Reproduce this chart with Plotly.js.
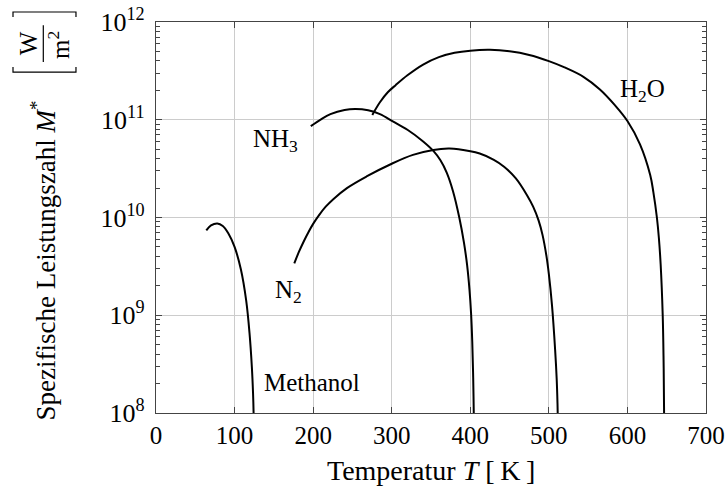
<!DOCTYPE html>
<html>
<head>
<meta charset="utf-8">
<script src="https://cdn.plot.ly/plotly-3.0.1.min.js"></script>
<style>html,body{margin:0;padding:0;background:#fff;}#chart{width:725px;height:493px;}</style>
</head>
<body>
<div id="chart"></div>
<script>
// Temperature T [K] and specific merit number M* [W/m^2]
var methanolT = [64, 70, 78, 85, 92, 100, 108, 114.8, 119, 122, 123.5, 124.2, 124.6];
var methanolM = [7.4e9, 8.3e9, 8.7e9, 8.2e9, 6.9e9, 5.0e9, 2.95e9, 1.41e9, 6.6e8, 2.95e8, 1.6e8, 1.0e8, 4e7];

var nh3T = [197, 210, 222, 240, 254, 270, 285, 302, 320, 340, 353, 362, 370, 378, 386, 392, 396, 399, 401, 402.5, 403.7, 404.5, 405];
var nh3M = [8.6e10, 1.01e11, 1.14e11, 1.26e11, 1.29e11, 1.25e11, 1.14e11, 9.55e10, 7.9e10, 6.0e10, 4.8e10, 3.85e10, 2.88e10, 1.86e10, 1.0e10, 5.5e9, 3.24e9, 1.82e9, 1.05e9, 5.4e8, 2.3e8, 9e7, 4e7];

var h2oT = [275.3, 285, 295, 305, 320, 340, 360, 380, 400, 425, 450, 475, 500, 520, 544, 565, 584, 600, 616, 629, 633, 637.5, 640, 642.3, 644.9, 646, 646.6, 647];
var h2oM = [1.12e11, 1.51e11, 1.91e11, 2.26e11, 2.85e11, 3.67e11, 4.37e11, 4.84e11, 5.09e11, 5.19e11, 5.01e11, 4.6e11, 3.98e11, 3.43e11, 2.75e11, 2.04e11, 1.41e11, 9.7e10, 5.6e10, 2.72e10, 1.82e10, 1.0e10, 6.2e9, 3.3e9, 1.0e9, 3.5e8, 1.15e8, 3e7];

var n2T = [176, 182, 188, 194, 200, 208, 216, 226, 243, 268, 300, 327, 353, 372, 385, 412, 430, 443, 458, 472, 480, 487, 492, 497, 500, 504, 508, 510, 511, 512];
var n2M = [3.4e9, 4.47e9, 5.69e9, 7.08e9, 8.6e9, 1.07e10, 1.29e10, 1.55e10, 2.0e10, 2.63e10, 3.55e10, 4.37e10, 4.9e10, 5.07e10, 5.0e10, 4.52e10, 3.89e10, 3.31e10, 2.51e10, 1.7e10, 1.29e10, 9.3e9, 6.6e9, 4.0e9, 2.63e9, 1.26e9, 4.4e8, 2.2e8, 1.25e8, 5e7];

var xTicks = [0, 100, 200, 300, 400, 500, 600, 700];
var yTickVals = [1e8, 1e9, 1e10, 1e11, 1e12];
var yTickText = ['10<sup>8</sup>', '10<sup>9</sup>', '10<sup>10</sup>', '10<sup>11</sup>', '10<sup>12</sup>'];

var FONT = '"Liberation Serif", "Times New Roman", serif';
var lineStyle = {color: '#000', width: 2, shape: 'spline', smoothing: 1};

function tr(x, y) {
  return {x: x, y: y, type: 'scatter', mode: 'lines', line: lineStyle, hoverinfo: 'skip', showlegend: false};
}

var data = [tr(methanolT, methanolM), tr(nh3T, nh3M), tr(h2oT, h2oM), tr(n2T, n2M)];

var axisCommon = {
  showline: true, linecolor: '#444', linewidth: 1.2, mirror: 'allticks',
  ticks: 'inside', tickcolor: '#444', ticklen: 6, tickwidth: 1,
  showgrid: true, gridcolor: '#cccccc', gridwidth: 1, zeroline: false,
  tickfont: {family: FONT, size: 25, color: '#000'}
};

var layout = {
  width: 725, height: 493,
  margin: {l: 156, r: 19, t: 22, b: 80},
  paper_bgcolor: '#fff', plot_bgcolor: '#fff',
  font: {family: FONT, color: '#000'},
  xaxis: Object.assign({}, axisCommon, {
    range: [0, 700], tickvals: xTicks, ticktext: xTicks.map(String)
  }),
  yaxis: Object.assign({}, axisCommon, {
    type: 'log', range: [8, 12], tickvals: yTickVals, ticktext: yTickText,
    ticklabelstandoff: 5,
    tickfont: {family: FONT, size: 26, color: '#000'},
    minor: {dtick: 'D1', ticks: 'inside', ticklen: 4, tickcolor: '#444', showgrid: false}
  }),
  annotations: [
    {text: 'NH<sub>3</sub>', x: 152.7, y: 10.79, xref: 'x', yref: 'y', showarrow: false, font: {family: FONT, size: 25}},
    {text: 'N<sub>2</sub>', x: 168, y: 9.238, xref: 'x', yref: 'y', showarrow: false, font: {family: FONT, size: 25}},
    {text: 'Methanol', x: 198, y: 8.307, xref: 'x', yref: 'y', showarrow: false, font: {family: FONT, size: 25}},
    {text: 'H<sub>2</sub>O', x: 618.6, y: 11.304, xref: 'x', yref: 'y', showarrow: false, font: {family: FONT, size: 25}},
    {text: 'Temperatur <i>T</i> [\u2009K\u2009]', x: 0.5, y: -0.146, xref: 'paper', yref: 'paper', showarrow: false, xanchor: 'center', yanchor: 'middle', font: {family: FONT, size: 28}},
    {text: 'Spezifische Leistungszahl <i>M</i><sup>*</sup>', x: -0.2055, y: 0.39, xref: 'paper', yref: 'paper', showarrow: false, textangle: -90, xanchor: 'center', yanchor: 'middle', font: {family: FONT, size: 27}},
    {text: 'W', x: -0.2327, y: 0.946, xref: 'paper', yref: 'paper', showarrow: false, textangle: -90, xanchor: 'center', yanchor: 'middle', font: {family: FONT, size: 25}},
    {text: 'm<sup>2</sup>', x: -0.1764, y: 0.941, xref: 'paper', yref: 'paper', showarrow: false, textangle: -90, xanchor: 'center', yanchor: 'middle', font: {family: FONT, size: 25}}
  ],
  shapes: [
    {type: 'line', xref: 'paper', yref: 'paper', x0: -0.2049, x1: -0.2049, y0: 0.898, y1: 0.992, line: {color: '#000', width: 1.2}},
    {type: 'path', xref: 'paper', yref: 'paper', path: 'M -0.26,1.0128 L -0.26,1.0256 L -0.1455,1.0256 L -0.1455,1.0128', line: {color: '#000', width: 1.2}},
    {type: 'path', xref: 'paper', yref: 'paper', path: 'M -0.26,0.885 L -0.26,0.872 L -0.1455,0.872 L -0.1455,0.885', line: {color: '#000', width: 1.2}}
  ]
};

Plotly.newPlot('chart', data, layout, {staticPlot: true, displayModeBar: false});
</script>
</body>
</html>
